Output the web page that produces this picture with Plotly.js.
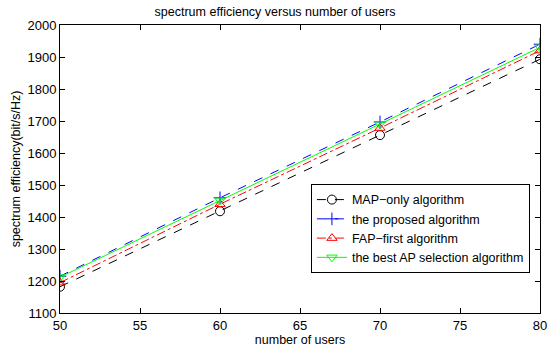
<!DOCTYPE html>
<html>
<head>
<meta charset="utf-8">
<script src="https://cdn.plot.ly/plotly-3.0.1.min.js"></script>
<style>html,body{margin:0;padding:0;background:#fff;}#chart{width:550px;height:349px;}</style>
</head>
<body>
<div id="chart"></div>
<script>
const users = [50, 60, 70, 80];
const mapOnly = [1182, 1418, 1656, 1893];
const proposed = [1215, 1460, 1697, 1940];
const fapFirst = [1195, 1440, 1678, 1920];
const bestAP = [1212, 1452, 1690, 1930];
const seriesNames = ['MAP\u2212only algorithm', 'the proposed algorithm', 'FAP\u2212first algorithm', 'the best AP selection algorithm'];
const xTicks = [50, 55, 60, 65, 70, 75, 80];
const yTicks = [1100, 1200, 1300, 1400, 1500, 1600, 1700, 1800, 1900, 2000];

const traces = [
  {x: users, y: mapOnly, name: seriesNames[0], mode: 'lines+markers',
   line: {color: '#000000', dash: 'dash', width: 1},
   marker: {symbol: 'circle-open', size: 9, color: '#000000', line: {width: 1}}},
  {x: users, y: proposed, name: seriesNames[1], mode: 'lines+markers',
   line: {color: '#0000ff', dash: 'dash', width: 1},
   marker: {symbol: 'cross-thin-open', size: 9, color: '#0000ff', line: {width: 1, color: '#0000ff'}}},
  {x: users, y: fapFirst, name: seriesNames[2], mode: 'lines+markers',
   line: {color: '#ff0000', dash: 'dashdot', width: 1},
   marker: {symbol: 'triangle-up-open', size: 9, color: '#ff0000', line: {width: 1}}},
  {x: users, y: bestAP, name: seriesNames[3], mode: 'lines+markers',
   line: {color: '#00ff00', dash: 'solid', width: 1},
   marker: {symbol: 'triangle-down-open', size: 9, color: '#00ff00', line: {width: 1}}}
];

const layout = {
  width: 550, height: 349,
  margin: {l: 60, r: 10, t: 25, b: 36},
  paper_bgcolor: '#ffffff', plot_bgcolor: '#ffffff',
  font: {family: 'Liberation Sans, Arial, sans-serif', size: 13, color: '#000'},
  title: {text: 'spectrum efficiency versus number of users', font: {size: 12.5},
          x: 0.5, xanchor: 'center', y: 0.966, yanchor: 'middle'},
  xaxis: {range: [50, 80], tickvals: xTicks, ticktext: xTicks.map(String),
          ticks: 'inside', ticklen: 5, tickcolor: '#000', showline: true, linecolor: '#000', linewidth: 1,
          mirror: 'ticks', showgrid: false, zeroline: false, tickfont: {size: 13},
          title: {text: 'number of users', font: {size: 12.5}, standoff: 3}},
  yaxis: {range: [1100, 2000], tickvals: yTicks, ticktext: yTicks.map(String),
          ticks: 'inside', ticklen: 5, tickcolor: '#000', showline: true, linecolor: '#000', linewidth: 1,
          mirror: 'ticks', showgrid: false, zeroline: false, tickfont: {size: 13},
          title: {text: 'spectrum efficiency(bit/s/Hz)', font: {size: 12.5}, standoff: 4}},
  legend: {x: 0.979, y: 0.448, xanchor: 'right', yanchor: 'top',
           bgcolor: '#ffffff', bordercolor: '#000', borderwidth: 1,
           font: {size: 12.5}, tracegroupgap: 0, itemwidth: 30},
  showlegend: true
};

Plotly.newPlot('chart', traces, layout, {staticPlot: true, displayModeBar: false});
</script>
</body>
</html>
